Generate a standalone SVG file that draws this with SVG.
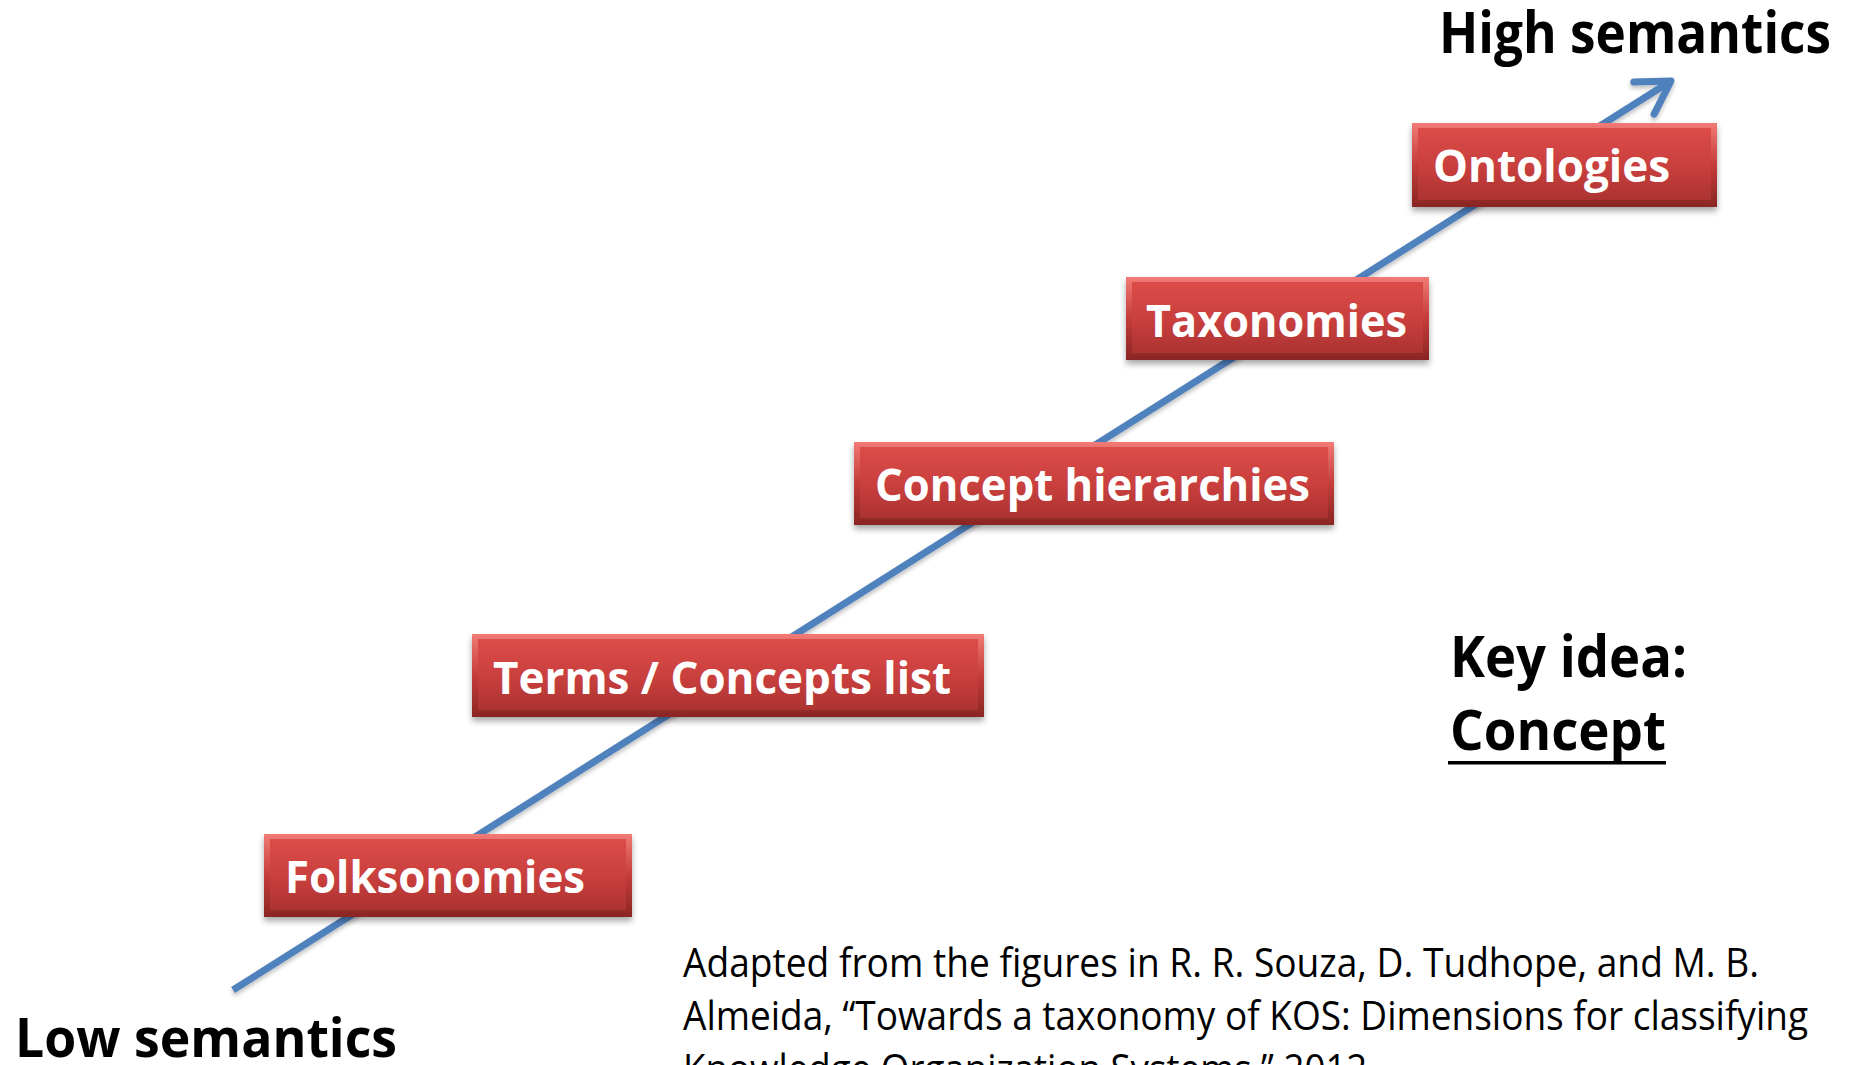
<svg xmlns="http://www.w3.org/2000/svg" width="1849" height="1065" viewBox="0 0 1849 1065">
<style>
.lbl{font-family:"Open Sans","Noto Sans","Liberation Sans",sans-serif;font-weight:bold;fill:#ffffff;font-size:44px}
.big{font-family:"Open Sans","Noto Sans","Liberation Sans",sans-serif;font-weight:bold;fill:#000000}
.cite{font-family:"Open Sans","Noto Sans","Liberation Sans",sans-serif;fill:#000000;font-size:41px}
.edge{fill:url(#edgeG);filter:url(#shadow)}
.body{fill:url(#bodyG)}
.conn{stroke:#4f81bd;stroke-width:7;fill:none}
</style>
<defs>
<linearGradient id="edgeG" x1="0" y1="0" x2="0" y2="1">
<stop offset="0" stop-color="#f27a76"/>
<stop offset="0.5" stop-color="#c43c3a"/>
<stop offset="1" stop-color="#8a2624"/>
</linearGradient>
<linearGradient id="bodyG" x1="0" y1="0" x2="0" y2="1">
<stop offset="0" stop-color="#dc4c49"/>
<stop offset="0.55" stop-color="#c83f3d"/>
<stop offset="1" stop-color="#ab3331"/>
</linearGradient>
<filter id="shadow" x="-10%" y="-20%" width="120%" height="150%">
<feDropShadow dx="0" dy="4" stdDeviation="3" flood-color="#000000" flood-opacity="0.35"/>
</filter>
<filter id="lshadow" x="-5%" y="-5%" width="110%" height="110%">
<feDropShadow dx="0" dy="3" stdDeviation="2" flood-color="#000000" flood-opacity="0.25"/>
</filter>
<marker id="arrow" markerUnits="userSpaceOnUse" viewBox="-50 -30 60 60" markerWidth="60" markerHeight="60" refX="0" refY="0" orient="auto" overflow="visible">
<path d="M-32,-19 L0,0 L-32,19" fill="none" stroke="#4f81bd" stroke-width="7" stroke-linecap="round" stroke-linejoin="round"/>
</marker>
</defs>
<rect width="1849" height="1065" fill="#ffffff"/>
<g id="connectors">
<line class="conn" x1="233" y1="990" x2="1671" y2="81" marker-end="url(#arrow)" filter="url(#lshadow)"/>
</g>
<g id="folksonomies">
<rect class="edge" x="264" y="834" width="368" height="83"/>
<rect class="body" x="270" y="839" width="356" height="71"/>
<text class="lbl" x="285" y="893" textLength="300" lengthAdjust="spacingAndGlyphs">Folksonomies</text>
</g>
<g id="terms">
<rect class="edge" x="472" y="634" width="512" height="83"/>
<rect class="body" x="478" y="639" width="500" height="71"/>
<text class="lbl" x="493" y="694" textLength="458" lengthAdjust="spacingAndGlyphs">Terms / Concepts list</text>
</g>
<g id="concept-hierarchies">
<rect class="edge" x="854" y="442" width="480" height="83"/>
<rect class="body" x="860" y="447" width="468" height="71"/>
<text class="lbl" x="875" y="501" textLength="435" lengthAdjust="spacingAndGlyphs">Concept hierarchies</text>
</g>
<g id="taxonomies">
<rect class="edge" x="1126" y="277" width="303" height="83"/>
<rect class="body" x="1132" y="282" width="291" height="71"/>
<text class="lbl" x="1146" y="337" textLength="261" lengthAdjust="spacingAndGlyphs">Taxonomies</text>
</g>
<g id="ontologies">
<rect class="edge" x="1412" y="123" width="305" height="84"/>
<rect class="body" x="1418" y="128" width="293" height="72"/>
<text class="lbl" x="1433" y="182" textLength="237" lengthAdjust="spacingAndGlyphs">Ontologies</text>
</g>
<g id="high-semantics">
<text class="big" x="1439" y="53" font-size="57" textLength="392" lengthAdjust="spacingAndGlyphs">High semantics</text>
</g>
<g id="low-semantics">
<text class="big" x="15" y="1057" font-size="54" textLength="382" lengthAdjust="spacingAndGlyphs">Low semantics</text>
</g>
<g id="key-idea">
<text class="big" x="1450" y="677" font-size="57" textLength="237" lengthAdjust="spacingAndGlyphs">Key idea:</text>
<text class="big" x="1450" y="750" font-size="55" textLength="216" lengthAdjust="spacingAndGlyphs">Concept</text>
<rect x="1448" y="761" width="218" height="3.5" fill="#000000"/>
</g>
<g id="citation">
<text class="cite" x="683" y="977" textLength="1076" lengthAdjust="spacingAndGlyphs">Adapted from the figures in R. R. Souza, D. Tudhope, and M. B.</text>
<text class="cite" x="683" y="1030" textLength="1125" lengthAdjust="spacingAndGlyphs">Almeida, “Towards a taxonomy of KOS: Dimensions for classifying</text>
<text class="cite" x="683" y="1083" textLength="694" lengthAdjust="spacingAndGlyphs">Knowledge Organization Systems,” 2012.</text>
</g>
</svg>
